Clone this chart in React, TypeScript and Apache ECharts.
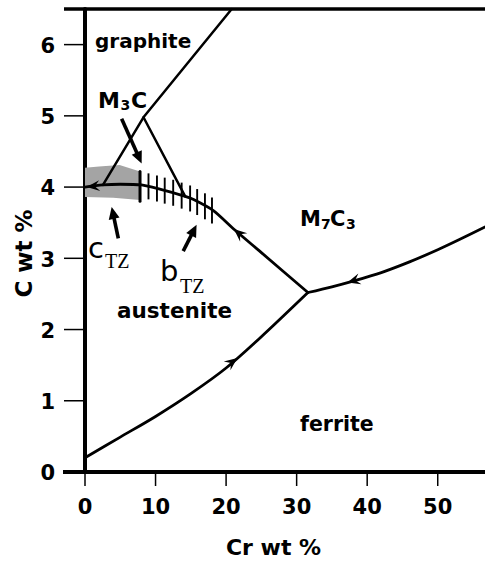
import React, { useEffect, useRef } from 'react';
import * as echarts from 'echarts';

// ---- axes ----
const xTicks = [0, 10, 20, 30, 40, 50];
const yTicks = [0, 1, 2, 3, 4, 5, 6];
const xMax = 56.7;
const yMax = 6.5;

// ---- phase boundaries (Cr wt %, C wt %) ----
const graphiteLine = [[20.8, 6.5], [8.29, 4.98], [2.55, 4.03]];
const m3cLine = [[8.29, 4.98], [14.2, 3.87]];
const valleyCurve = [[0, 4.0], [2.5, 4.03], [5, 4.04], [8, 4.03], [10.6, 3.97], [14.2, 3.87], [15.3, 3.83], [18.2, 3.67], [21.2, 3.4], [25, 3.08], [31.6, 2.52]];
const ferriteAusCurve = [[0, 0.2], [5, 0.49], [10, 0.78], [15, 1.1], [20, 1.46], [25, 1.9], [31.6, 2.52]];
const ferriteM7C3Curve = [[31.6, 2.52], [35, 2.6], [38, 2.68], [42, 2.8], [46, 2.95], [50, 3.12], [53, 3.26], [56.7, 3.44]];

// ---- cTZ shaded band & bTZ hatching ----
const bandTop = [[0, 4.27], [2, 4.29], [4.9, 4.31], [7.8, 4.22]];
const bandBottom = [[7.8, 3.82], [4, 3.85], [0, 3.86]];
const bandEdge = [[7.8, 3.8], [7.8, 4.22]];
const hatchX = [9.0, 10.2, 11.3, 12.5, 13.7, 14.9, 15.9, 17.0, 18.0];
const hatchY = [4.01, 3.98, 3.95, 3.92, 3.88, 3.84, 3.79, 3.73, 3.67];

// ---- arrows: [tipX, tipY, fromX, fromY] ----
const curveArrows = [
  [0.25, 4.0, 3, 4.03],
  [21.1, 3.41, 25, 3.08],
  [21.6, 1.6, 17, 1.25],
  [37.2, 2.66, 42, 2.8],
];
const labelArrows = [
  [8.03, 4.33, 5.19, 4.96],
  [3.78, 3.72, 4.72, 3.28],
  [15.82, 3.47, 13.92, 3.1],
];

const BOLD = '"DejaVu Sans"';
const TICK_FONT = 21;

function txt(text: string, x: number, base: number, fs: number, opt: any = {}) {
  return {
    type: 'text',
    x,
    y: base - 0.3 * fs,
    silent: true,
    style: {
      text,
      fill: '#000',
      fontSize: fs,
      fontFamily: opt.family || BOLD,
      fontWeight: opt.weight || 'bold',
      textAlign: opt.align || 'left',
      align: opt.align || 'left',
      textVerticalAlign: 'middle',
      verticalAlign: 'middle',
    },
  };
}

function lineSeries(data: number[][], width: number, smooth: number | boolean = false) {
  return {
    type: 'line',
    data,
    symbol: 'none',
    showSymbol: false,
    smooth,
    silent: true,
    lineStyle: { color: '#000', width, cap: 'round', join: 'round' },
    z: 3,
  };
}

function arrowSeries(data: number[][], withShaft: boolean) {
  return {
    type: 'custom',
    coordinateSystem: 'cartesian2d',
    silent: true,
    clip: false,
    data,
    encode: { x: [0, 2], y: [1, 3] },
    z: 5,
    renderItem: (_p: any, api: any) => {
      const t = api.coord([api.value(0), api.value(1)]);
      const f = api.coord([api.value(2), api.value(3)]);
      let dx = t[0] - f[0];
      let dy = t[1] - f[1];
      const d = Math.hypot(dx, dy) || 1;
      dx /= d; dy /= d;
      const nx = -dy, ny = dx;
      const L = withShaft ? 12 : 13;
      const W = 5.5;
      const notch = withShaft ? 1 : 0.62;
      const head = {
        type: 'polygon',
        shape: {
          points: [
            [t[0], t[1]],
            [t[0] - L * dx + W * nx, t[1] - L * dy + W * ny],
            [t[0] - notch * L * dx, t[1] - notch * L * dy],
            [t[0] - L * dx - W * nx, t[1] - L * dy - W * ny],
          ],
        },
        style: { fill: '#000' },
      };
      if (!withShaft) return head;
      return {
        type: 'group',
        children: [
          {
            type: 'line',
            shape: { x1: f[0], y1: f[1], x2: t[0] - 0.8 * L * dx, y2: t[1] - 0.8 * L * dy },
            style: { stroke: '#000', lineWidth: 3.6 },
          },
          head,
        ],
      };
    },
  };
}

export default function App() {
  const ref = useRef<HTMLDivElement>(null);

  useEffect(() => {
    document.body.style.margin = '0';
    const chart = echarts.init(ref.current!, null, { renderer: 'svg' });

    const option: any = {
      animation: false,
      backgroundColor: '#fff',
      grid: { left: 85, right: 0, top: 9, bottom: 90, containLabel: false },
      xAxis: {
        type: 'value',
        min: 0,
        max: xMax,
        interval: 10,
        splitLine: { show: false },
        axisLine: { show: true, onZero: false, lineStyle: { color: '#000', width: 4 } },
        axisTick: { show: false },
        axisLabel: { show: false },
      },
      yAxis: {
        type: 'value',
        min: 0,
        max: yMax,
        interval: 1,
        splitLine: { show: false },
        axisLine: { show: true, onZero: false, lineStyle: { color: '#000', width: 4 } },
        axisTick: { show: false },
        axisLabel: { show: false },
      },
      series: [
        {
          type: 'custom',
          coordinateSystem: 'cartesian2d',
          silent: true,
          clip: false,
          data: [[0, 4]],
          encode: { x: 0, y: 1 },
          z: 1,
          renderItem: (_p: any, api: any) => ({
            type: 'polygon',
            shape: { points: [...bandTop, ...bandBottom].map((p) => api.coord(p)) },
            style: { fill: '#a4a4a4' },
          }),
        },
        // x-axis ticks and labels
        {
          type: 'custom',
          coordinateSystem: 'cartesian2d',
          silent: true,
          clip: false,
          data: xTicks.map((v) => [v, 0]),
          encode: { x: 0, y: 1 },
          z: 2,
          renderItem: (_p: any, api: any) => {
            const v = api.value(0);
            const c = api.coord([v, 0]);
            return {
              type: 'group',
              children: [
                { type: 'line', shape: { x1: c[0], y1: c[1], x2: c[0], y2: c[1] + 14 }, style: { stroke: '#000', lineWidth: 1.5 } },
                {
                  type: 'text',
                  x: c[0],
                  y: c[1] + 35,
                  style: {
                    text: String(v), fill: '#000', fontSize: TICK_FONT, fontFamily: BOLD, fontWeight: 'bold',
                    align: 'center', textAlign: 'center', verticalAlign: 'middle', textVerticalAlign: 'middle',
                  },
                },
              ],
            };
          },
        },
        // y-axis ticks and labels
        {
          type: 'custom',
          coordinateSystem: 'cartesian2d',
          silent: true,
          clip: false,
          data: yTicks.map((v) => [0, v]),
          encode: { x: 0, y: 1 },
          z: 2,
          renderItem: (_p: any, api: any) => {
            const v = api.value(1);
            const c = api.coord([0, v]);
            return {
              type: 'group',
              children: [
                { type: 'line', shape: { x1: c[0] - 21, y1: c[1], x2: c[0], y2: c[1] }, style: { stroke: '#000', lineWidth: 1.5 } },
                {
                  type: 'text',
                  x: c[0] - 30,
                  y: c[1] + 1.4,
                  style: {
                    text: String(v), fill: '#000', fontSize: TICK_FONT, fontFamily: BOLD, fontWeight: 'bold',
                    align: 'right', textAlign: 'right', verticalAlign: 'middle', textVerticalAlign: 'middle',
                  },
                },
              ],
            };
          },
        },
        lineSeries(graphiteLine, 2.5),
        lineSeries(m3cLine, 2.5),
        lineSeries(valleyCurve, 2.8, 0.25),
        lineSeries(ferriteAusCurve, 2.8, 0.3),
        lineSeries(ferriteM7C3Curve, 2.8, 0.3),
        lineSeries(bandEdge, 3),
        {
          type: 'custom',
          coordinateSystem: 'cartesian2d',
          silent: true,
          data: hatchX.map((x, i) => [x, hatchY[i]]),
          encode: { x: 0, y: 1 },
          z: 4,
          renderItem: (_p: any, api: any) => {
            const c = api.coord([api.value(0), api.value(1)]);
            return {
              type: 'line',
              shape: { x1: c[0], y1: c[1] - 13, x2: c[0], y2: c[1] + 13 },
              style: { stroke: '#000', lineWidth: 1.9 },
            };
          },
        },
        arrowSeries(curveArrows, false),
        arrowSeries(labelArrows, true),
      ],
      graphic: [
        { type: 'line', silent: true, shape: { x1: 64, y1: 9, x2: 485, y2: 9 }, style: { stroke: '#000', lineWidth: 3.5 } },
        { type: 'line', silent: true, shape: { x1: 63, y1: 472, x2: 86, y2: 472 }, style: { stroke: '#000', lineWidth: 4 } },
        txt('graphite', 95, 47, 20),
        txt('M', 98, 107, 22),
        txt('3', 120.5, 109.5, 14),
        txt('C', 131, 107, 22),
        txt('M', 300, 225, 21),
        txt('7', 321, 228, 14),
        txt('C', 330, 225, 21),
        txt('3', 346, 228, 14),
        txt('austenite', 117, 317, 21.5),
        txt('ferrite', 300, 430, 20.5),
        txt('c', 88, 257, 29, { weight: 'normal' }),
        txt('TZ', 105, 267, 20, { weight: 'normal', family: '"Liberation Serif"' }),
        txt('b', 160, 280, 29, { weight: 'normal' }),
        txt('TZ', 180, 292, 20, { weight: 'normal', family: '"Liberation Serif"' }),
        txt('Cr wt %', 273.5, 554, 22, { align: 'center' }),
        {
          type: 'text',
          x: 31 - 0.3 * 23,
          y: 253.5,
          rotation: Math.PI / 2,
          silent: true,
          style: {
            text: 'C wt %',
            fill: '#000',
            fontSize: 23,
            fontFamily: BOLD,
            fontWeight: 'bold',
            textAlign: 'center',
            align: 'center',
            textVerticalAlign: 'middle',
            verticalAlign: 'middle',
          },
        },
      ],
    };

    chart.setOption(option);
    return () => chart.dispose();
  }, []);

  return (
    <div
      ref={ref}
      style={{ position: 'fixed', left: 0, top: 0, width: 485, height: 562, background: '#fff' }}
    />
  );
}
